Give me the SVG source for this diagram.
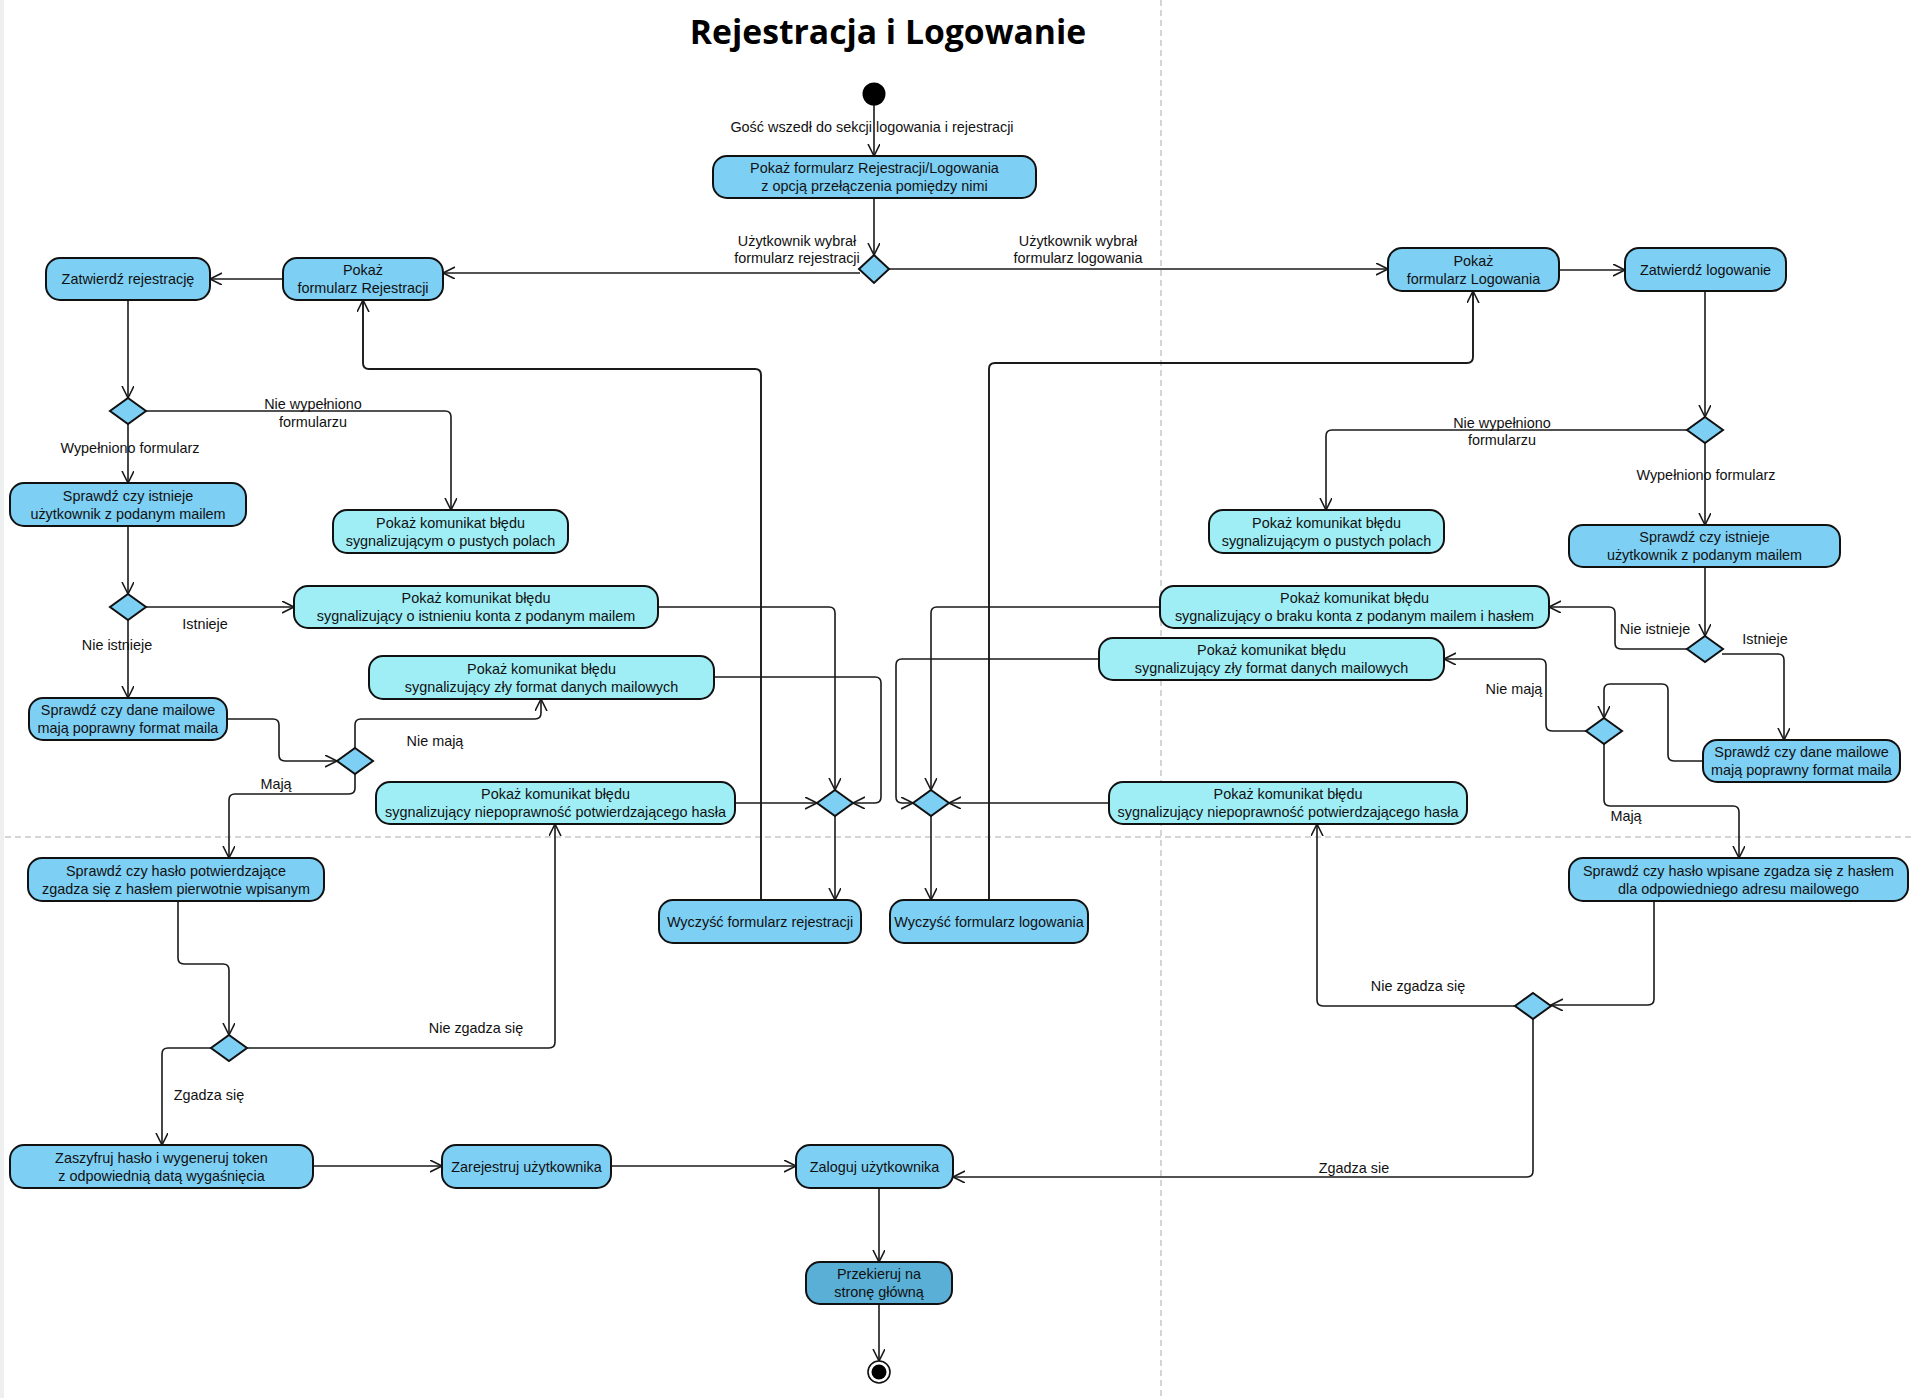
<svg xmlns="http://www.w3.org/2000/svg" width="1915" height="1398" viewBox="0 0 1915 1398">
<style>
text{font-family:"Liberation Sans",Arial,sans-serif;font-size:14.4px;fill:#111;text-anchor:middle}
.title{font-family:"Open Sans","Noto Sans",sans-serif;font-size:33.7px;font-weight:bold;fill:#000}
.act{fill:#7dcff4;stroke:#111;stroke-width:2}
.err{fill:#9feef5;stroke:#111;stroke-width:2}
.dark{fill:#5aafd6;stroke:#111;stroke-width:2}
.dia{fill:#7dcff4;stroke:#111;stroke-width:2}
.c{fill:none;stroke:#1a1a1a;stroke-width:1.6;marker-end:url(#arr)}
.lane{stroke:#c8c8c8;stroke-width:1.5;stroke-dasharray:6 4;fill:none}
</style>
<defs>
<marker id="arr" markerUnits="userSpaceOnUse" markerWidth="16" markerHeight="16" refX="12" refY="6" orient="auto">
<path d="M0,0 L12,6 L0,12" fill="none" stroke="#1a1a1a" stroke-width="1.6"/>
</marker>
</defs>
<rect width="1915" height="1398" fill="#fff"/>
<rect x="0" y="0" width="4" height="1398" fill="#eef0f0"/>
<g id="partitions">
<line class="lane" x1="1161" y1="0" x2="1161" y2="1398"/>
<line class="lane" x1="5" y1="837" x2="1915" y2="837"/>
</g>
<text class="title" x="888" y="44">Rejestracja i Logowanie</text>

<g id="connectors">
<path class="c" d="M874 105 V156"/>
<path class="c" d="M874 198 V255"/>
<path class="c" d="M860 273 H443"/>
<path class="c" d="M889 269 H1388"/>
<path class="c" d="M283 279 H210"/>
<path class="c" d="M128 300 V398"/>
<path class="c" d="M146 411 H445 Q451 411 451 417 V510"/>
<path class="c" d="M128 424 V483"/>
<path class="c" d="M128 526 V594"/>
<path class="c" d="M146 607 H294"/>
<path class="c" d="M128 620 V698"/>
<path class="c" d="M227 719 H273 Q279 719 279 725 V755 Q279 761 285 761 H337"/>
<path class="c" d="M355 748 V725 Q355 719 361 719 H535 Q541 719 541 713 V699"/>
<path class="c" d="M355 774 V788 Q355 794 349 794 H235 Q229 794 229 800 V858"/>
<path class="c" d="M178 901 V958 Q178 964 184 964 H223 Q229 964 229 970 V1035"/>
<path class="c" d="M247 1048 H549 Q555 1048 555 1042 V824"/>
<path class="c" d="M211 1048 H168 Q162 1048 162 1054 V1145"/>
<path class="c" d="M313 1166 H442"/>
<path class="c" d="M611 1166 H796"/>
<path class="c" d="M879 1188 V1262"/>
<path class="c" d="M879 1304 V1361"/>
<path class="c" d="M658 607 H829 Q835 607 835 613 V790"/>
<path class="c" d="M714 677 H875 Q881 677 881 683 V797 Q881 803 875 803 H853"/>
<path class="c" d="M735 803 H817"/>
<path class="c" d="M835 816 V900"/>
<path class="c" d="M761 900 V375 Q761 369 755 369 H369 Q363 369 363 363 V300" style="stroke-width:1.9"/>
<path class="c" d="M1160 607 H937 Q931 607 931 613 V790"/>
<path class="c" d="M1099 659 H902 Q896 659 896 665 V797 Q896 803 902 803 H913"/>
<path class="c" d="M1109 803 H949"/>
<path class="c" d="M931 816 V900"/>
<path class="c" d="M989 900 V369 Q989 363 995 363 H1467 Q1473 363 1473 357 V291" style="stroke-width:1.9"/>
<path class="c" d="M1559 270 H1625"/>
<path class="c" d="M1705 291 V417"/>
<path class="c" d="M1687 430 H1332 Q1326 430 1326 436 V510"/>
<path class="c" d="M1705 443 V525"/>
<path class="c" d="M1705 567 V636"/>
<path class="c" d="M1687 649 H1621 Q1615 649 1615 643 V613 Q1615 607 1609 607 H1549"/>
<path class="c" d="M1722 654 H1778 Q1784 654 1784 660 V740"/>
<path class="c" d="M1703 761 H1674 Q1668 761 1668 755 V690 Q1668 684 1662 684 H1610 Q1604 684 1604 690 V718"/>
<path class="c" d="M1586 731 H1552 Q1546 731 1546 725 V665 Q1546 659 1540 659 H1444"/>
<path class="c" d="M1604 744 V800 Q1604 806 1610 806 H1733 Q1739 806 1739 812 V858"/>
<path class="c" d="M1654 901 V999 Q1654 1005 1648 1005 H1551"/>
<path class="c" d="M1515 1006 H1323 Q1317 1006 1317 1000 V824"/>
<path class="c" d="M1533 1019 V1171 Q1533 1177 1527 1177 H953"/>
</g>

<g id="edge-labels">
<text x="872" y="132">Gość wszedł do sekcji logowania i rejestracji</text>
<text x="797" y="246">Użytkownik wybrał</text>
<text x="797" y="263">formularz rejestracji</text>
<text x="1078" y="246">Użytkownik wybrał</text>
<text x="1078" y="263">formularz logowania</text>
<text x="313" y="409">Nie wypełniono</text>
<text x="313" y="427">formularzu</text>
<text x="130" y="453">Wypełniono formularz</text>
<text x="205" y="629">Istnieje</text>
<text x="117" y="650">Nie istnieje</text>
<text x="435" y="746">Nie mają</text>
<text x="276" y="789">Mają</text>
<text x="476" y="1033">Nie zgadza się</text>
<text x="209" y="1100">Zgadza się</text>
<text x="1502" y="428">Nie wypełniono</text>
<text x="1502" y="445">formularzu</text>
<text x="1706" y="480">Wypełniono formularz</text>
<text x="1655" y="634">Nie istnieje</text>
<text x="1765" y="644">Istnieje</text>
<text x="1514" y="694">Nie mają</text>
<text x="1626" y="821">Mają</text>
<text x="1418" y="991">Nie zgadza się</text>
<text x="1354" y="1173">Zgadza sie</text>
</g>

<g id="start"><circle cx="874" cy="94" r="11.5" fill="#000"/></g>
<g id="end"><circle cx="879" cy="1372" r="11" fill="#fff" stroke="#111" stroke-width="1.6"/><circle cx="879" cy="1372" r="7.5" fill="#000"/></g>

<g id="n1"><rect class="act" x="713" y="156" width="323" height="42" rx="14"/><text x="874.5" y="173">Pokaż formularz Rejestracji/Logowania</text><text x="874.5" y="191">z opcją przełączenia pomiędzy nimi</text></g>
<g id="d1"><polygon class="dia" points="874,255 889,269 874,283 859,269"/></g>
<g id="n2"><rect class="act" x="283" y="258" width="160" height="42" rx="14"/><text x="363" y="275">Pokaż</text><text x="363" y="293">formularz Rejestracji</text></g>
<g id="n3"><rect class="act" x="46" y="258" width="164" height="42" rx="14"/><text x="128" y="284">Zatwierdź rejestrację</text></g>
<g id="d2"><polygon class="dia" points="128,398 146,411 128,424 110,411"/></g>
<g id="n4"><rect class="act" x="10" y="483" width="236" height="43" rx="14"/><text x="128" y="500.5">Sprawdź czy istnieje</text><text x="128" y="518.5">użytkownik z podanym mailem</text></g>
<g id="n5"><rect class="err" x="333" y="510" width="235" height="43" rx="14"/><text x="450.5" y="527.5">Pokaż komunikat błędu</text><text x="450.5" y="545.5">sygnalizującym o pustych polach</text></g>
<g id="d3"><polygon class="dia" points="128,594 146,607 128,620 110,607"/></g>
<g id="n6"><rect class="err" x="294" y="586" width="364" height="42" rx="14"/><text x="476" y="603">Pokaż komunikat błędu</text><text x="476" y="621">sygnalizujący o istnieniu konta z podanym mailem</text></g>
<g id="n7"><rect class="act" x="29" y="698" width="198" height="42" rx="14"/><text x="128" y="715">Sprawdź czy dane mailowe</text><text x="128" y="733">mają poprawny format maila</text></g>
<g id="d4"><polygon class="dia" points="355,748 373,761 355,774 337,761"/></g>
<g id="n8"><rect class="err" x="369" y="656" width="345" height="43" rx="14"/><text x="541.5" y="673.5">Pokaż komunikat błędu</text><text x="541.5" y="691.5">sygnalizujący zły format danych mailowych</text></g>
<g id="n9"><rect class="act" x="28" y="858" width="296" height="43" rx="14"/><text x="176" y="875.5">Sprawdź czy hasło potwierdzające</text><text x="176" y="893.5">zgadza się z hasłem pierwotnie wpisanym</text></g>
<g id="d5"><polygon class="dia" points="229,1035 247,1048 229,1061 211,1048"/></g>
<g id="n10"><rect class="err" x="376" y="782" width="359" height="42" rx="14"/><text x="555.5" y="799">Pokaż komunikat błędu</text><text x="555.5" y="817">sygnalizujący niepoprawność potwierdzającego hasła</text></g>
<g id="n11"><rect class="act" x="10" y="1145" width="303" height="43" rx="14"/><text x="161.5" y="1162.5">Zaszyfruj hasło i wygeneruj token</text><text x="161.5" y="1180.5">z odpowiednią datą wygaśnięcia</text></g>
<g id="n12"><rect class="act" x="442" y="1145" width="169" height="43" rx="14"/><text x="526.5" y="1171.5">Zarejestruj użytkownika</text></g>
<g id="n13"><rect class="act" x="796" y="1145" width="157" height="43" rx="14"/><text x="874.5" y="1171.5">Zaloguj użytkownika</text></g>
<g id="n14"><rect class="dark" x="806" y="1262" width="146" height="42" rx="14"/><text x="879" y="1279">Przekieruj na</text><text x="879" y="1297">stronę główną</text></g>
<g id="dm1"><polygon class="dia" points="835,790 853,803 835,816 817,803"/></g>
<g id="dm2"><polygon class="dia" points="931,790 949,803 931,816 913,803"/></g>
<g id="n15"><rect class="act" x="659" y="900" width="202" height="43" rx="14"/><text x="760" y="926.5">Wyczyść formularz rejestracji</text></g>
<g id="n16"><rect class="act" x="890" y="900" width="198" height="43" rx="14"/><text x="989" y="926.5">Wyczyść formularz logowania</text></g>
<g id="n17"><rect class="act" x="1388" y="248" width="171" height="43" rx="14"/><text x="1473.5" y="265.5">Pokaż</text><text x="1473.5" y="283.5">formularz Logowania</text></g>
<g id="n18"><rect class="act" x="1625" y="248" width="161" height="43" rx="14"/><text x="1705.5" y="274.5">Zatwierdź logowanie</text></g>
<g id="d6"><polygon class="dia" points="1705,417 1723,430 1705,443 1687,430"/></g>
<g id="n19"><rect class="err" x="1209" y="510" width="235" height="43" rx="14"/><text x="1326.5" y="527.5">Pokaż komunikat błędu</text><text x="1326.5" y="545.5">sygnalizującym o pustych polach</text></g>
<g id="n20"><rect class="act" x="1569" y="525" width="271" height="42" rx="14"/><text x="1704.5" y="542">Sprawdź czy istnieje</text><text x="1704.5" y="560">użytkownik z podanym mailem</text></g>
<g id="d7"><polygon class="dia" points="1705,636 1723,649 1705,662 1687,649"/></g>
<g id="n21"><rect class="err" x="1160" y="586" width="389" height="42" rx="14"/><text x="1354.5" y="603">Pokaż komunikat błędu</text><text x="1354.5" y="621">sygnalizujący o braku konta z podanym mailem i hasłem</text></g>
<g id="n22"><rect class="act" x="1703" y="740" width="197" height="42" rx="14"/><text x="1801.5" y="757">Sprawdź czy dane mailowe</text><text x="1801.5" y="775">mają poprawny format maila</text></g>
<g id="d8"><polygon class="dia" points="1604,718 1622,731 1604,744 1586,731"/></g>
<g id="n23"><rect class="err" x="1099" y="638" width="345" height="42" rx="14"/><text x="1271.5" y="655">Pokaż komunikat błędu</text><text x="1271.5" y="673">sygnalizujący zły format danych mailowych</text></g>
<g id="n24"><rect class="act" x="1569" y="858" width="339" height="43" rx="14"/><text x="1738.5" y="875.5">Sprawdź czy hasło wpisane zgadza się z hasłem</text><text x="1738.5" y="893.5">dla odpowiedniego adresu mailowego</text></g>
<g id="d9"><polygon class="dia" points="1533,993 1551,1006 1533,1019 1515,1006"/></g>
<g id="n25"><rect class="err" x="1109" y="782" width="358" height="42" rx="14"/><text x="1288" y="799">Pokaż komunikat błędu</text><text x="1288" y="817">sygnalizujący niepoprawność potwierdzającego hasła</text></g>
</svg>
